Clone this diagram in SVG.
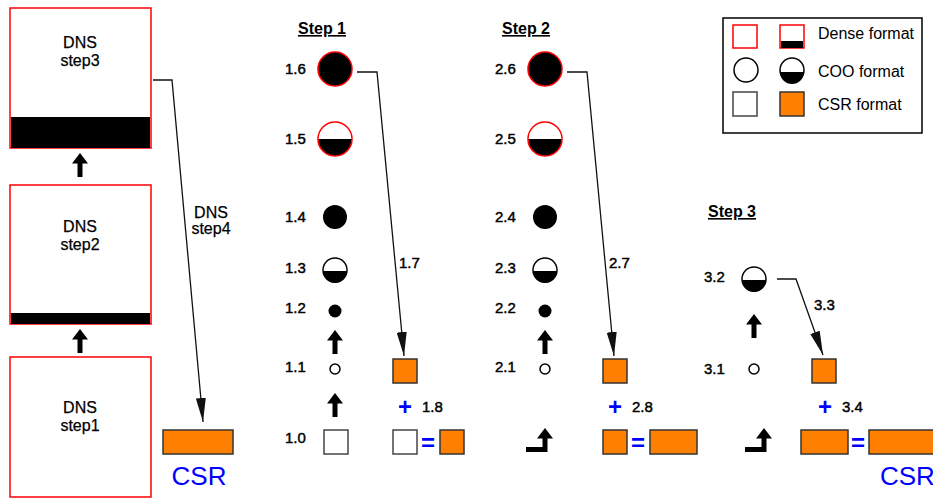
<svg xmlns="http://www.w3.org/2000/svg" width="933" height="498" viewBox="0 0 933 498">
<style>
text{font-family:"Liberation Sans",Arial,sans-serif;fill:#000}
.dns{font-size:16px;text-anchor:middle;stroke:#000;stroke-width:0.25}
.num{font-size:15px;stroke:#000;stroke-width:0.45}
.step{font-size:16px;font-weight:bold;text-decoration:underline;text-anchor:middle}
.leg{font-size:16px}
.blue{fill:#0000ff;font-weight:bold;font-size:24px;text-anchor:middle}
.csr{font-size:26px;fill:#0000ff}
.dense{fill:#fff;stroke:#ff0000;stroke-width:1.5}
.band{fill:#000}
.orange{fill:#ff8000;stroke:#333;stroke-width:1.5}
.wsq{fill:#fff;stroke:#444;stroke-width:1.5}
.oc{fill:#fff;stroke:#000;stroke-width:1.5}
.ring{fill:none;stroke:#000;stroke-width:1.5}
.conn{fill:none;stroke:#111;stroke-width:1.3}
</style>
<defs>
<marker id="ah" markerUnits="userSpaceOnUse" markerWidth="24" markerHeight="10" viewBox="0 0 24 10" refX="24" refY="5" orient="auto">
<path d="M0,0 L24,5 L0,10 z" fill="#111"/>
</marker>
<path id="up" d="M0,0 L8,10.5 L2.5,10.5 L2.5,24 L-2.5,24 L-2.5,10.5 L-8,10.5 Z"/>
<path id="bent" d="M0,0 L8,10.5 L2.5,10.5 L2.5,24 L-19,24 L-19,19 L-2.5,19 L-2.5,10.5 L-8,10.5 Z"/>
</defs>

<!-- Left DNS boxes -->
<g id="dns3">
<rect class="dense" x="10" y="8" width="141" height="140"/>
<rect class="band" x="11" y="117" width="139" height="31"/>
<text class="dns" x="80" y="48">DNS</text>
<text class="dns" x="80" y="66">step3</text>
</g>
<g id="dns2">
<rect class="dense" x="10" y="185" width="141" height="139"/>
<rect class="band" x="11" y="313" width="139" height="11"/>
<text class="dns" x="80" y="232">DNS</text>
<text class="dns" x="80" y="250">step2</text>
</g>
<g id="dns1">
<rect class="dense" x="10" y="357" width="141" height="140"/>
<text class="dns" x="80" y="413">DNS</text>
<text class="dns" x="80" y="431">step1</text>
</g>
<g id="csr-left">
<rect class="orange" x="163" y="430" width="70" height="24"/>
<text class="csr" x="199" y="485" text-anchor="middle">CSR</text>
</g>

<!-- Step 1 -->
<g id="step1">
<text class="step" x="322" y="34">Step 1</text>
<text class="num" x="285" y="74">1.6</text>
<circle cx="335" cy="69" r="17" fill="#000" stroke="#ff0000" stroke-width="1.5"/>
<text class="num" x="285" y="144">1.5</text>
<path d="M318,139 A17,17 0 0 0 352,139 Z" fill="#000"/>
<circle cx="335" cy="139" r="17" fill="none" stroke="#ff0000" stroke-width="1.5"/>
<text class="num" x="285" y="222">1.4</text>
<circle cx="335" cy="217" r="12" fill="#000"/>
<text class="num" x="285" y="273">1.3</text>
<path d="M323,271 A12,12 0 0 0 347,271 Z" fill="#000"/>
<circle cx="335" cy="270" r="12" class="ring"/>
<text class="num" x="285" y="313">1.2</text>
<circle cx="335" cy="311" r="6.5" fill="#000"/>
<text class="num" x="285" y="372">1.1</text>
<circle cx="335" cy="369" r="5" class="oc"/>
<text class="num" x="285" y="443">1.0</text>
<rect class="wsq" x="324" y="430" width="24" height="24"/>
<rect class="orange" x="393" y="359" width="24" height="24"/>
<text class="blue" x="405" y="415">+</text>
<text class="num" x="422" y="412">1.8</text>
<rect class="wsq" x="393" y="430" width="24" height="24"/>
<text class="blue" x="428" y="451">=</text>
<rect class="orange" x="440" y="430" width="24" height="24"/>
<text class="num" x="399" y="268">1.7</text>
</g>

<!-- Step 2 -->
<g id="step2">
<text class="step" x="526" y="34">Step 2</text>
<text class="num" x="495" y="74">2.6</text>
<circle cx="545" cy="69" r="17" fill="#000" stroke="#ff0000" stroke-width="1.5"/>
<text class="num" x="495" y="144">2.5</text>
<path d="M528,139 A17,17 0 0 0 562,139 Z" fill="#000"/>
<circle cx="545" cy="139" r="17" fill="none" stroke="#ff0000" stroke-width="1.5"/>
<text class="num" x="495" y="222">2.4</text>
<circle cx="545" cy="217" r="12" fill="#000"/>
<text class="num" x="495" y="273">2.3</text>
<path d="M533,271 A12,12 0 0 0 557,271 Z" fill="#000"/>
<circle cx="545" cy="270" r="12" class="ring"/>
<text class="num" x="495" y="313">2.2</text>
<circle cx="545" cy="311" r="6.5" fill="#000"/>
<text class="num" x="495" y="372">2.1</text>
<circle cx="545" cy="369" r="5" class="oc"/>
<rect class="orange" x="603" y="359" width="24" height="24"/>
<text class="blue" x="615" y="415">+</text>
<text class="num" x="632" y="412">2.8</text>
<rect class="orange" x="603" y="430" width="24" height="24"/>
<text class="blue" x="638" y="451">=</text>
<rect class="orange" x="650" y="430" width="47" height="24"/>
<text class="num" x="609" y="268">2.7</text>
</g>

<!-- Step 3 -->
<g id="step3">
<text class="step" x="732" y="217">Step 3</text>
<text class="num" x="704" y="282">3.2</text>
<path d="M742,280 A12,12 0 0 0 766,280 Z" fill="#000"/>
<circle cx="754" cy="279" r="12" class="ring"/>
<text class="num" x="704" y="374">3.1</text>
<circle cx="754" cy="369" r="5" class="oc"/>
<rect class="orange" x="812" y="359" width="24" height="24"/>
<text class="blue" x="825" y="415">+</text>
<text class="num" x="842" y="412">3.4</text>
<rect class="orange" x="801" y="430" width="47" height="24"/>
<text class="blue" x="858" y="451">=</text>
<rect class="orange" x="869" y="430" width="70" height="24"/>
<text class="csr" x="880" y="485">CSR</text>
<text class="num" x="814" y="310">3.3</text>
</g>

<!-- Legend -->
<g id="legend">
<rect x="723" y="18" width="199" height="115" fill="#fff" stroke="#000" stroke-width="1.5"/>
<rect class="dense" x="733" y="25" width="24" height="23"/>
<rect class="dense" x="780" y="25" width="24" height="23"/>
<rect class="band" x="781" y="41" width="22" height="7"/>
<text class="leg" x="818" y="39">Dense format</text>
<circle cx="746" cy="70" r="12" class="oc"/>
<path d="M780,72 A12,12 0 0 0 804,72 Z" fill="#000"/>
<circle cx="792" cy="70" r="12" class="ring"/>
<text class="leg" x="818" y="77">COO format</text>
<rect class="wsq" x="733" y="92" width="24" height="24"/>
<rect class="orange" x="780" y="92" width="24" height="24"/>
<text class="leg" x="818" y="110">CSR format</text>
</g>

<!-- Connectors -->
<g id="connectors">
<use href="#up" x="80" y="153"/>
<use href="#up" x="80" y="329"/>
<use href="#up" x="335" y="330"/>
<use href="#up" x="335" y="393"/>
<use href="#up" x="545" y="330"/>
<use href="#bent" x="545" y="428"/>
<use href="#up" x="754" y="314"/>
<use href="#bent" x="764" y="428"/>
<path class="conn" d="M153,80 L172,80 L203,422" marker-end="url(#ah)"/>
<path class="conn" d="M357,72 L377,72 L404,356" marker-end="url(#ah)"/>
<path class="conn" d="M567,72 L587,72 L614,356" marker-end="url(#ah)"/>
<path class="conn" d="M777,279 L796,279 L823,355" marker-end="url(#ah)"/>
<text class="dns" x="211" y="218">DNS</text>
<text class="dns" x="211" y="234">step4</text>
</g>
</svg>
